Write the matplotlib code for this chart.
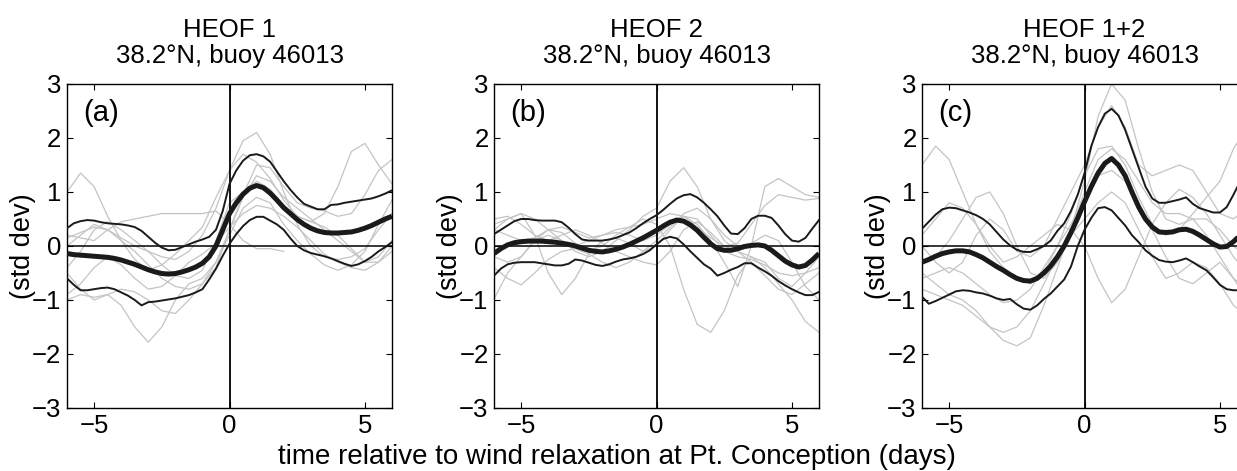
import numpy as np
import matplotlib
matplotlib.use("Agg")
import matplotlib.pyplot as plt

plt.rcParams['font.family'] = ['Liberation Sans', 'DejaVu Sans']

# time axes (days relative to relaxation): quarter-day for composites, half-day for events
t_fine = np.arange(-6, 6.01, 0.25)
t = np.arange(-6, 6.01, 0.5)

titles = ["HEOF 1\n38.2\u00b0N, buoy 46013",
          "HEOF 2\n38.2\u00b0N, buoy 46013",
          "HEOF 1+2\n38.2\u00b0N, buoy 46013"]
letters = ["(a)", "(b)", "(c)"]

# ---- panel (a) HEOF 1 ----
mean_a = [-0.14, -0.16, -0.17, -0.18, -0.19, -0.2, -0.21, -0.23, -0.26, -0.3, -0.34, -0.39, -0.44,
          -0.48, -0.51, -0.52, -0.51, -0.48, -0.44, -0.39, -0.32, -0.2, 0.0, 0.3, 0.6,
          0.8, 0.96, 1.07, 1.12, 1.08, 0.98, 0.85, 0.71, 0.6, 0.49, 0.4, 0.33,
          0.28, 0.25, 0.24, 0.24, 0.25, 0.26, 0.29, 0.33, 0.38, 0.44, 0.5, 0.55]
upper_a = [0.33, 0.42, 0.46, 0.48, 0.47, 0.44, 0.42, 0.41, 0.4, 0.38, 0.35, 0.28, 0.17,
           0.06, -0.03, -0.08, -0.07, -0.02, 0.03, 0.08, 0.12, 0.17, 0.3, 0.65, 1.15,
           1.4, 1.58, 1.68, 1.7, 1.66, 1.56, 1.38, 1.2, 1.04, 0.9, 0.78, 0.73,
           0.68, 0.68, 0.76, 0.77, 0.8, 0.82, 0.84, 0.86, 0.88, 0.92, 0.97, 1.03]
lower_a = [-0.6, -0.72, -0.82, -0.82, -0.8, -0.78, -0.77, -0.8, -0.86, -0.92, -1.0, -1.1, -1.04,
           -1.03, -1.01, -0.99, -0.97, -0.94, -0.91, -0.86, -0.8, -0.62, -0.42, -0.18, 0.04,
           0.22, 0.37, 0.48, 0.54, 0.54, 0.47, 0.4, 0.3, 0.14, 0.0, -0.08, -0.13,
           -0.16, -0.19, -0.23, -0.28, -0.33, -0.37, -0.34, -0.28, -0.2, -0.1, -0.02, 0.07]
events_a = [
    [1.0, 1.35, 1.1, 0.55, 0.1, -0.25, -0.45, -0.35, -0.15, 0.1, 0.35, 0.9, 1.4, 1.7, 1.55, 1.25, 0.85, 0.55, 0.45, 0.6, 1.1, 1.75, 1.9, 1.5, 1.15],
    [0.15, 0.25, 0.35, 0.3, 0.15, 0.0, -0.1, -0.2, -0.25, -0.1, 0.2, 0.7, 1.4, 1.95, 2.1, 1.7, 1.0, 0.4, 0.0, -0.2, -0.25, -0.2, -0.05, 0.3, 0.6],
    [-0.5, -0.8, -1.0, -0.9, -1.1, -1.5, -1.78, -1.5, -1.0, -0.7, -0.6, -0.3, 0.3, 0.9, 1.3, 1.2, 0.9, 0.7, 0.5, 0.3, 0.1, -0.1, -0.3, -0.2, 0.1],
    [-0.4, -0.1, 0.3, 0.45, 0.3, 0.1, -0.1, -0.35, -0.55, -0.6, -0.45, 0.1, 0.8, 1.0, 1.2, 1.05, 0.75, 0.55, 0.45, 0.35, 0.2, -0.05, -0.3, -0.3, 0.0],
    [0.2, 0.15, 0.1, 0.3, 0.45, 0.5, 0.55, 0.6, 0.6, 0.6, 0.6, 0.65, 0.4, 0.1, -0.05, -0.05, -0.1] + [np.nan] * 8,
    [-1.0, -0.9, -0.95, -0.9, -0.8, -0.85, -1.0, -1.2, -1.25, -1.0, -0.7, -0.3, 0.2, 0.7, 0.9, 0.8, 0.4, 0.1, -0.15, -0.35, -0.45, -0.35, -0.1, 0.4, 0.85],
    [0.0, 0.2, 0.4, 0.3, 0.1, -0.1, -0.35, -0.6, -0.75, -0.8, -0.7, -0.4, 0.3, 0.95, 1.5, 1.45, 1.1, 0.8, 0.7, 0.65, 0.55, 0.6, 0.95, 1.4, 1.6],
    [-0.9, -0.7, -0.4, -0.2, -0.35, -0.6, -0.8, -0.75, -0.55, -0.3, -0.15, 0.05, 0.35, 0.6, 0.75, 0.7, 0.55, 0.35, 0.1, -0.15, -0.3, -0.4, -0.45, -0.3, -0.1],
]

# ---- panel (b) HEOF 2 ----
mean_b = [-0.14, -0.05, 0.02, 0.06, 0.08, 0.09, 0.09, 0.09, 0.08, 0.07, 0.05, 0.03, 0.0,
          -0.04, -0.08, -0.1, -0.11, -0.09, -0.06, -0.02, 0.03, 0.09, 0.15, 0.22, 0.29,
          0.37, 0.44, 0.48, 0.46, 0.39, 0.29, 0.16, 0.04, -0.05, -0.08, -0.08, -0.05,
          -0.01, 0.01, 0.02, 0.0, -0.08, -0.18, -0.28, -0.35, -0.39, -0.36, -0.26, -0.14]
upper_b = [0.22, 0.3, 0.38, 0.46, 0.5, 0.5, 0.48, 0.47, 0.47, 0.47, 0.44, 0.34, 0.22,
           0.12, 0.1, 0.1, 0.1, 0.12, 0.15, 0.2, 0.25, 0.33, 0.42, 0.5, 0.57,
           0.67, 0.78, 0.88, 0.94, 0.96, 0.9, 0.8, 0.68, 0.55, 0.38, 0.23, 0.22,
           0.33, 0.5, 0.56, 0.56, 0.52, 0.38, 0.22, 0.1, 0.08, 0.15, 0.32, 0.48]
lower_b = [-0.55, -0.42, -0.34, -0.31, -0.3, -0.3, -0.3, -0.32, -0.34, -0.36, -0.36, -0.33, -0.25,
           -0.27, -0.31, -0.35, -0.37, -0.34, -0.29, -0.25, -0.23, -0.2, -0.15, -0.08, 0.03,
           0.13, 0.17, 0.14, 0.03, -0.1, -0.22, -0.34, -0.42, -0.55, -0.5, -0.44, -0.39,
           -0.32, -0.32, -0.4, -0.47, -0.55, -0.65, -0.73, -0.8, -0.86, -0.91, -0.91, -0.85]
events_b = [
    [0.3, 0.2, 0.1, 0.15, 0.3, 0.25, 0.05, -0.1, 0.0, 0.2, 0.35, 0.5, 0.4, 0.0, -0.8, -1.45, -1.6, -1.2, -0.55, -0.2, -0.3, -0.6, -0.75, -0.5, -0.2],
    [-0.2, -0.3, -0.2, 0.1, 0.2, 0.1, -0.1, -0.2, -0.1, 0.1, 0.3, 0.55, 0.7, 1.2, 1.45, 1.1, 0.5, 0.1, -0.1, -0.2, -0.4, -0.7, -1.0, -1.4, -1.6],
    [0.4, 0.5, 0.6, 0.5, 0.3, 0.1, 0.0, 0.1, 0.2, 0.25, 0.2, 0.1, 0.2, 0.4, 0.55, 0.4, 0.1, -0.3, -0.75, 0.0, 1.1, 1.25, 1.1, 0.95, 0.9],
    [0.3, 0.5, 0.6, 0.2, -0.5, -0.9, -0.6, -0.15, 0.1, 0.15, 0.05, -0.1, 0.0, 0.3, 0.55, 0.5, 0.2, -0.1, -0.2, -0.25, -0.35, -0.5, -0.55, -0.5, -0.4],
    [-0.98, -0.5, -0.2, 0.1, 0.3, 0.35, 0.25, 0.15, 0.2, 0.3, 0.35, 0.4, 0.5, 0.6, 0.55, 0.35, 0.15, 0.0, -0.1, -0.3, -0.55, -0.8, -0.9, -0.7, -0.5],
    [-0.4, -0.6, -0.72, -0.5, -0.25, -0.1, -0.05, -0.15, -0.3, -0.4, -0.3, -0.1, 0.1, 0.35, 0.6, 0.7, 0.5, 0.2, 0.0, 0.05, 0.2, 0.1, -0.3, -0.75, -1.0],
    [0.5, 0.55, 0.4, 0.2, 0.1, 0.2, 0.3, 0.2, 0.05, -0.1, -0.2, -0.3, -0.35, -0.1, 0.3, 0.45, 0.25, 0.0, 0.05, 0.4, 0.75, 0.95, 0.9, 0.85, 0.88],
]

# ---- panel (c) HEOF 1+2 ----
mean_c = [-0.3, -0.25, -0.19, -0.14, -0.11, -0.09, -0.09, -0.11, -0.16, -0.22, -0.3, -0.38, -0.45,
          -0.53, -0.6, -0.64, -0.65, -0.6, -0.5, -0.37, -0.2, 0.0, 0.25, 0.52, 0.82,
          1.1, 1.35, 1.53, 1.62, 1.5, 1.3, 1.0, 0.72, 0.5, 0.35, 0.26, 0.25,
          0.26, 0.3, 0.31, 0.27, 0.2, 0.12, 0.04, -0.02, -0.01, 0.08, 0.2, 0.35]
upper_c = [0.32, 0.45, 0.58, 0.68, 0.71, 0.7, 0.66, 0.62, 0.57, 0.5, 0.4, 0.26, 0.12,
           0.01, -0.07, -0.11, -0.11, -0.06, 0.0, 0.1, 0.28, 0.42, 0.65, 0.95, 1.35,
           1.85, 2.2, 2.45, 2.54, 2.42, 2.15, 1.8, 1.45, 1.1, 0.88, 0.8, 0.8,
           0.83, 0.86, 0.9, 0.78, 0.7, 0.66, 0.62, 0.62, 0.72, 0.95, 1.2, 1.5]
lower_c = [-0.94, -1.07, -1.02, -0.96, -0.9, -0.84, -0.82, -0.83, -0.86, -0.88, -0.92, -0.97, -1.0,
           -0.98, -1.08, -1.16, -1.18, -1.1, -0.98, -0.88, -0.75, -0.62, -0.38, 0.0, 0.3,
           0.52, 0.7, 0.72, 0.66, 0.52, 0.38, 0.2, 0.07, -0.08, -0.18, -0.26, -0.29,
           -0.3, -0.27, -0.23, -0.3, -0.38, -0.45, -0.58, -0.72, -0.8, -0.82, -0.82, -0.8]
events_c = [
    [1.5, 1.85, 1.6, 1.0, 0.4, -0.1, -0.4, -0.6, -0.7, -0.5, 0.0, 0.6, 1.3, 1.8, 1.85, 1.5, 0.9, 0.4, 0.2, 0.3, 0.6, 0.9, 1.2, 1.8, 2.2],
    [-0.3, -0.2, 0.1, 0.5, 0.9, 1.0, 0.6, 0.0, -0.5, -0.6, -0.3, 0.3, 1.2, 2.4, 3.0, 2.7, 1.8, 1.0, 0.5, 0.4, 0.5, 0.5, 0.3, 0.0, -0.2],
    [-0.5, -0.7, -0.9, -1.0, -1.2, -1.5, -1.75, -1.85, -1.7, -1.1, -0.4, 0.3, 1.0, 1.6, 1.8, 1.6, 1.2, 0.8, 0.6, 0.6, 0.5, 0.2, -0.2, -0.6, -0.8],
    [-0.8, -0.9, -1.0, -1.1, -1.3, -1.5, -1.6, -1.5, -1.2, -0.7, -0.2, 0.2, 0.5, 0.8, 1.0, 0.8, 0.3, -0.2, -0.6, -0.5, -0.3, -0.4, -0.7, -1.1, -1.3],
    [0.2, 0.5, 0.8, 0.7, 0.4, 0.0, -0.3, -0.2, 0.0, 0.2, 0.4, 0.3, 0.0, -0.6, -1.05, -0.8, -0.2, 0.4, 0.8, 1.05, 0.9, 0.6, 0.2, -0.2, -0.5],
    [0.0, -0.3, -0.5, -0.3, 0.2, 0.5, 0.3, -0.1, -0.2, 0.0, 0.5, 1.0, 1.5, 2.2, 2.6, 2.2, 1.5, 1.3, 1.4, 1.5, 1.4, 1.0, 0.6, 0.5, 0.7],
    [-0.6, -0.5, -0.4, -0.5, -0.7, -0.9, -1.05, -1.0, -0.8, -0.4, 0.0, 0.4, 0.9, 1.3, 1.4, 1.2, 0.8, 0.3, -0.2, -0.6, -0.7, -0.5, -0.3, -0.6, -1.0],
]

panels = [(mean_a, upper_a, lower_a, events_a),
          (mean_b, upper_b, lower_b, events_b),
          (mean_c, upper_c, lower_c, events_c)]

fig = plt.figure(figsize=(12.37, 4.71), dpi=100)
lefts = [0.0542, 0.3994, 0.7454]
fs = 18.5

for i, (mean, upper, lower, events) in enumerate(panels):
    ax = fig.add_axes([lefts[i], 0.1338, 0.2627, 0.6879])
    for ev in events:
        ax.plot(t, ev, color='#c4c4c4', lw=0.9, zorder=1)
    ax.axhline(0, color='k', lw=1.1, zorder=2)
    ax.axvline(0, color='k', lw=1.3, zorder=2)
    ax.plot(t_fine, upper, color='#1a1a1a', lw=1.4, zorder=3)
    ax.plot(t_fine, lower, color='#1a1a1a', lw=1.4, zorder=3)
    ax.plot(t_fine, mean, color='#1a1a1a', lw=3.6, solid_capstyle='butt',
            solid_joinstyle='round', zorder=4)
    ax.set_xlim(-6, 6)
    ax.set_ylim(-3, 3)
    ax.set_xticks([-5, 0, 5])
    ax.set_yticks([-3, -2, -1, 0, 1, 2, 3])
    ax.tick_params(direction='in', top=True, right=True, length=4, width=0.8,
                   labelsize=fs, pad=4)
    for sp in ax.spines.values():
        sp.set_linewidth(1.0)
    ax.set_ylabel("(std dev)", fontsize=19.5, labelpad=-3)
    ax.set_title(titles[i], fontsize=fs, linespacing=1.1, pad=15)
    ax.text(0.05, 0.955, letters[i], transform=ax.transAxes, fontsize=21,
            va='top', ha='left')

fig.text(0.499, 1 - 457 / 471, "time relative to wind relaxation at Pt. Conception (days)",
         fontsize=20, ha='center', va='center')

fig.savefig("out.png", dpi=100)
